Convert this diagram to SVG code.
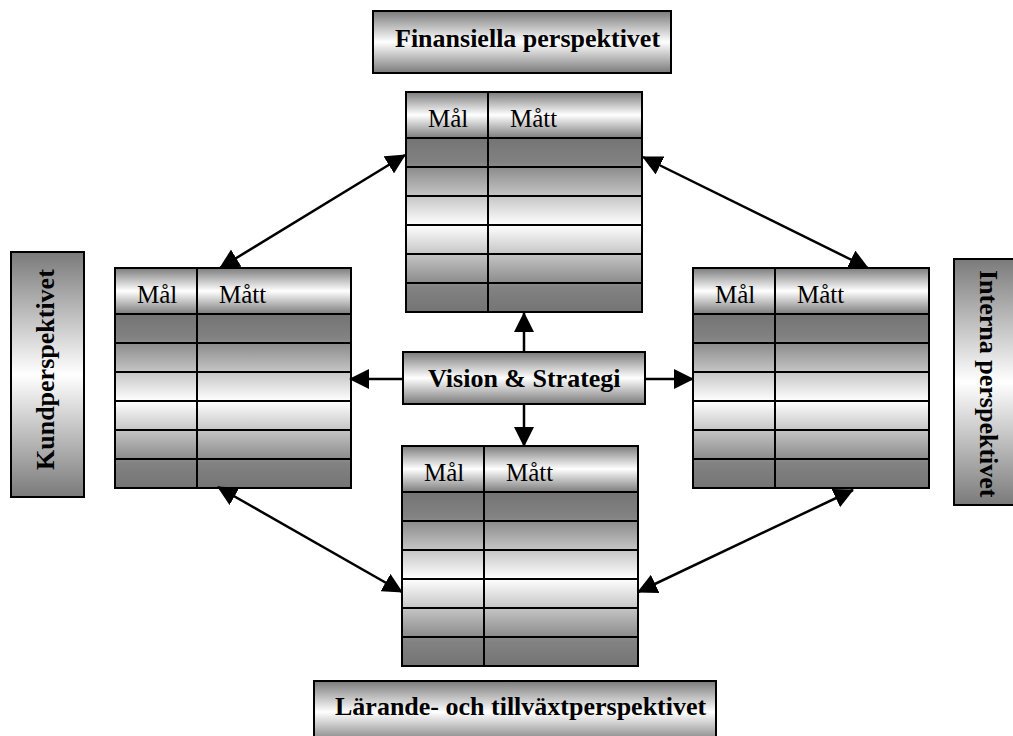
<svg xmlns="http://www.w3.org/2000/svg" width="1013" height="736" viewBox="0 0 1013 736" font-family="'Liberation Serif', 'Times New Roman', Times, serif">
<style>
text{font-family:'Liberation Serif','Times New Roman',Times,serif}
.h{font-size:25px;fill:#000}
.lbl{font-size:26px;font-weight:bold;fill:#000}
.box{fill:url(#gLabel);stroke:#000;stroke-width:2}
.con{stroke:#000;stroke-width:2.5;fill:none;marker-end:url(#ah)}
.dbl{marker-start:url(#ah)}
</style>
<defs>
<linearGradient id="gHead" x1="0" y1="0" x2="0" y2="1">
<stop offset="0" stop-color="#7c7c7c"/><stop offset="0.5" stop-color="#ffffff"/><stop offset="1" stop-color="#7c7c7c"/>
</linearGradient>
<linearGradient id="gBody" x1="0" y1="0" x2="0" y2="1">
<stop offset="0" stop-color="#747474"/><stop offset="0.14" stop-color="#828282"/><stop offset="0.5" stop-color="#ffffff"/><stop offset="0.86" stop-color="#828282"/><stop offset="1" stop-color="#747474"/>
</linearGradient>
<linearGradient id="gLabel" x1="0" y1="0" x2="0" y2="1">
<stop offset="0" stop-color="#7a7a7a"/><stop offset="0.5" stop-color="#ffffff"/><stop offset="1" stop-color="#7a7a7a"/>
</linearGradient>
<marker id="ah" viewBox="0 0 20 20" refX="19" refY="10" markerWidth="20" markerHeight="20" markerUnits="userSpaceOnUse" orient="auto-start-reverse">
<path d="M0,0 L20,10 L0,20 z" fill="#000"/>
</marker>
<g id="tbl">
<rect x="0" y="46" width="236" height="174" fill="url(#gBody)"/>
<rect x="0" y="0" width="236" height="46" fill="url(#gHead)"/>
<g stroke="#000" stroke-width="2" fill="none">
<rect x="0" y="0" width="236" height="220"/>
<path d="M0,46H236M0,75H236M0,104H236M0,133H236M0,162H236M0,191H236M82,0V220"/>
</g>
<text class="h" x="22" y="35" font-family="'Liberation Serif', serif">Mål</text>
<text class="h" x="104" y="35" font-family="'Liberation Serif', serif">Mått</text>
</g>
</defs>
<rect width="1013" height="736" fill="#fff"/>
<g id="finansiella">
<rect class="box" x="373" y="11" width="298" height="62"/>
<text class="lbl" x="395" y="47">Finansiella perspektivet</text>
</g>
<g id="kund">
<rect class="box" x="11" y="252" width="73" height="245"/>
<text class="lbl" transform="translate(54,470) rotate(-90)">Kundperspektivet</text>
</g>
<g id="interna">
<rect class="box" x="954" y="259" width="70" height="246"/>
<text class="lbl" transform="translate(980,270) rotate(90)">Interna perspektivet</text>
</g>
<g id="larande">
<rect class="box" x="314" y="681" width="402" height="62"/>
<text class="lbl" x="335" y="715">Lärande- och tillväxtperspektivet</text>
</g>
<g id="vision">
<rect class="box" x="403" y="352" width="242" height="52"/>
<text class="lbl" x="428" y="387">Vision &amp; Strategi</text>
</g>
<g id="table-top"><use href="#tbl" x="406" y="92"/></g>
<g id="table-left"><use href="#tbl" x="115" y="268"/></g>
<g id="table-right"><use href="#tbl" x="693" y="268"/></g>
<g id="table-bottom"><use href="#tbl" x="402" y="446"/></g>
<g id="connectors">
<line class="con" x1="524" y1="352" x2="524" y2="313"/>
<line class="con" x1="403" y1="379" x2="350" y2="379"/>
<line class="con" x1="645" y1="379" x2="693" y2="379"/>
<line class="con" x1="524" y1="404" x2="524" y2="446"/>
<line class="con dbl" x1="405" y1="155" x2="220" y2="268"/>
<line class="con dbl" x1="643" y1="157" x2="868" y2="268"/>
<line class="con dbl" x1="218" y1="487" x2="402" y2="592"/>
<line class="con dbl" x1="853" y1="490" x2="638" y2="592"/>
</g>
</svg>
